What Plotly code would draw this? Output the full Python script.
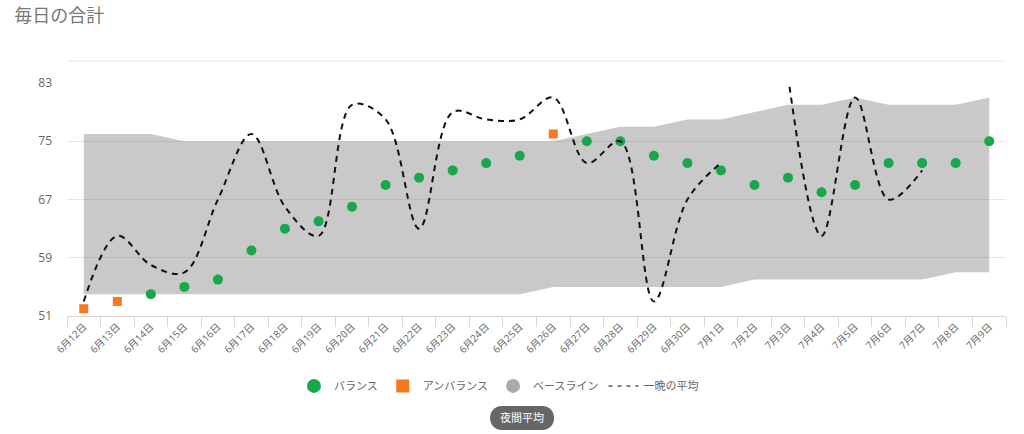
import plotly.graph_objects as go

# 日付カテゴリ
dates = [f"6月{d}日" for d in range(12, 31)] + [f"7月{d}日" for d in range(1, 10)]

# バランス (緑の点)
balance = [None, None, 54, 55, 56, 60, 63, 64, 66, 69, 70, 71, 72, 73,
           None, 75, 75, 73, 72, 71, 69, 70, 68, 69, 72, 72, 72, 75]
# アンバランス (オレンジの四角)
unbalance = [52, 53, None, None, None, None, None, None, None, None, None, None, None, None,
             76, None, None, None, None, None, None, None, None, None, None, None, None, None]
# ベースライン 上限・下限
base_upper = [76, 76, 76, 75, 75, 75, 75, 75, 75, 75, 75, 75, 75, 75,
              75, 76, 77, 77, 78, 78, 79, 80, 80, 81, 80, 80, 80, 81]
base_lower = [54, 54, 54, 54, 54, 54, 54, 54, 54, 54, 54, 54, 54, 54,
              55, 55, 55, 55, 55, 55, 56, 56, 56, 56, 56, 56, 57, 57]
# 一晩の平均 (破線)
night_avg = [53, 62, 58, 57, 67, 76, 66, 62, 80, 78, 63, 79, 78, 78,
             81, 72, 75, 53, 67, 72, None, 84, 62, 81, 67, 71, None, None]

y_ticks = [51, 59, 67, 75, 83]

FONT = "Open Sans, Noto Sans CJK JP, sans-serif"
GREEN = "#17a84b"
ORANGE = "#f47a20"

fig = go.Figure()

# ベースラインの帯
fig.add_trace(go.Scatter(
    x=dates, y=base_lower, mode="lines", line=dict(width=0),
    showlegend=False, hoverinfo="skip"
))
fig.add_trace(go.Scatter(
    x=dates, y=base_upper, mode="lines", line=dict(width=0),
    fill="tonexty", fillcolor="rgba(105,105,105,0.36)",
    showlegend=False, hoverinfo="skip"
))

fig.add_trace(go.Scatter(
    x=dates, y=balance, mode="markers", showlegend=False,
    marker=dict(color=GREEN, size=10, symbol="circle")
))
fig.add_trace(go.Scatter(
    x=dates, y=unbalance, mode="markers", showlegend=False,
    marker=dict(color=ORANGE, size=9, symbol="square")
))
fig.add_trace(go.Scatter(
    x=dates, y=night_avg, mode="lines", showlegend=False,
    line=dict(color="#111111", width=2, dash="6px,5px", shape="spline"),
    connectgaps=False
))

# 凡例用
fig.add_trace(go.Scatter(x=[None], y=[None], mode="markers", name="バランス",
                         marker=dict(color=GREEN, size=14, symbol="circle")))
fig.add_trace(go.Scatter(x=[None], y=[None], mode="markers", name="アンバランス",
                         marker=dict(color=ORANGE, size=13, symbol="square")))
fig.add_trace(go.Scatter(x=[None], y=[None], mode="markers", name="ベースライン",
                         marker=dict(color="#aaaaaa", size=14, symbol="circle")))
fig.add_trace(go.Scatter(x=[None], y=[None], mode="lines", name="一晩の平均",
                         line=dict(color="#555555", width=1.5, dash="4px,5px")))

fig.update_layout(
    width=1024, height=434,
    margin=dict(l=67, r=18, t=83, b=118),
    paper_bgcolor="white", plot_bgcolor="white",
    font=dict(family=FONT, color="#666666"),
    title=dict(text="毎日の合計", x=0.014, y=0.978, xanchor="left", yanchor="top",
               font=dict(family="Noto Sans CJK JP, sans-serif", size=18, color="#777777")),
    legend=dict(orientation="h", x=0.46, xanchor="center", y=-0.30, yanchor="middle",
                font=dict(size=11, color="#666666"), itemwidth=30, traceorder="normal"),
    showlegend=True,
)

fig.update_xaxes(
    type="category", range=[-0.5, 27.5],
    tickson="boundaries", ticks="outside", ticklen=10, tickcolor="#d8d8d8",
    showline=True, linecolor="#d8d8d8", linewidth=1,
    showgrid=False, tickangle=-45, tickfont=dict(size=10, color="#666666"),
    fixedrange=True
)
fig.update_yaxes(
    range=[51, 83], tickvals=y_ticks, showgrid=True, gridcolor="#e6e6e6",
    zeroline=False, showline=False, tickfont=dict(size=12, color="#666666"),
    ticks="", ticklabelstandoff=14, fixedrange=True
)

# 上部の区切り線
fig.add_shape(type="line", xref="paper", yref="paper", x0=0, x1=1,
              y0=1 + 22 / 233, y1=1 + 22 / 233,
              line=dict(color="#e6e6e6", width=1))

# 「夜間平均」ボタン
bx, by = 0.4846, -0.438
fig.add_shape(type="path", xref="paper", yref="paper", xsizemode="pixel", ysizemode="pixel",
              xanchor=bx, yanchor=by, layer="below",
              path=("M -20 -12 L 20 -12 C 36 -12 36 12 20 12 "
                    "L -20 12 C -36 12 -36 -12 -20 -12 Z"),
              fillcolor="#666666", line=dict(width=0))
fig.add_annotation(x=bx, y=by, xref="paper", yref="paper", text="夜間平均", showarrow=False,
                   yshift=-9, font=dict(family="Noto Sans CJK JP, sans-serif", size=11, color="white"))

fig.write_html("out.html", config={"displayModeBar": False},
               post_script="document.body.style.margin='0px';")
